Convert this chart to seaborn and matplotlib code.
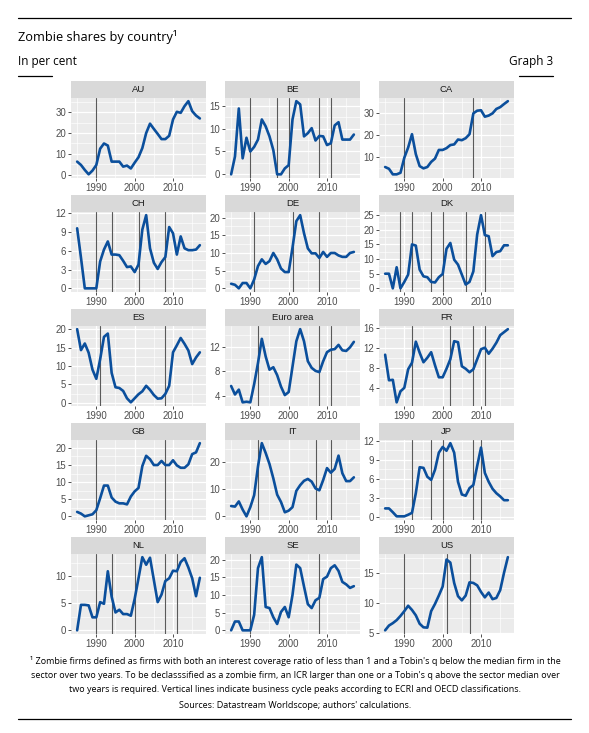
import matplotlib
matplotlib.use("Agg")
import numpy as np
import pandas as pd
import matplotlib.pyplot as plt
import seaborn as sns
from matplotlib.lines import Line2D
from matplotlib.ticker import FixedLocator, MultipleLocator

# ---------------- data ----------------
YEARS = list(range(1985, 2018))
COUNTRIES = ["AU", "BE", "CA", "CH", "DE", "DK", "ES", "Euro area",
             "FR", "GB", "IT", "JP", "NL", "SE", "US"]

AU = [6.3, 4.7, 2.3, 0.2, 2.0, 4.7, 12.5, 15.0, 14.0, 6.3, 6.3, 6.3, 3.9, 4.4, 3.0, 5.8, 8.4,
      12.8, 20.0, 24.5, 22.0, 19.6, 17.1, 17.1, 18.7, 26.5, 30.2, 29.7, 32.9, 35.3, 30.5, 28.4, 27.0]
BE = [0.0, 3.9, 14.4, 3.5, 8.0, 5.0, 6.0, 7.6, 12.0, 10.5, 8.3, 5.3, 0.0, 0.0, 1.3, 2.0, 12.0,
      16.0, 15.3, 8.3, 9.0, 10.1, 7.4, 8.4, 8.3, 6.4, 6.8, 10.7, 11.4, 7.6, 7.6, 7.6, 8.7]
CA = [5.6, 4.8, 2.3, 2.3, 3.0, 9.8, 14.4, 20.4, 11.4, 6.0, 5.0, 5.6, 7.9, 9.4, 13.3, 13.3, 14.1,
      15.5, 15.8, 18.0, 17.7, 18.6, 20.4, 29.8, 31.0, 31.2, 28.3, 28.8, 29.8, 31.8, 32.6, 34.0, 35.3]
CH = [9.6, 4.9, 0.0, 0.0, 0.0, 0.0, 4.3, 6.2, 7.5, 5.4, 5.4, 5.3, 4.4, 3.4, 3.5, 2.6, 3.8,
      9.4, 11.7, 6.4, 4.1, 3.1, 4.2, 5.0, 9.8, 8.8, 5.4, 8.3, 6.4, 6.1, 6.1, 6.2, 6.9]
DE = [1.3, 1.0, 0.0, 1.5, 1.5, 0.0, 2.5, 6.3, 8.2, 6.9, 7.7, 10.0, 8.2, 5.6, 4.6, 4.6, 11.5,
      19.0, 20.7, 15.6, 11.3, 9.9, 9.9, 8.6, 10.3, 8.9, 10.0, 10.0, 9.3, 8.9, 8.9, 10.0, 10.3]
DK = [5.0, 5.0, 0.0, 7.2, 0.0, 2.2, 4.7, 15.0, 14.6, 6.4, 4.1, 3.8, 2.2, 2.0, 3.8, 4.9, 13.5,
      15.5, 9.8, 8.1, 4.7, 1.3, 2.2, 5.8, 18.4, 25.0, 18.2, 17.8, 11.0, 12.4, 12.7, 14.7, 14.7]
ES = [20.0, 14.3, 16.1, 13.6, 9.0, 6.5, 11.8, 17.9, 18.8, 8.1, 4.2, 4.0, 3.2, 1.2, 0.1, 1.2, 2.3,
      3.1, 4.6, 3.5, 2.1, 1.1, 1.2, 2.4, 4.6, 13.7, 15.6, 17.6, 16.0, 14.2, 10.5, 12.3, 13.7]
EA = [5.6, 4.2, 5.0, 2.9, 3.0, 2.9, 5.9, 9.4, 13.4, 10.5, 8.3, 8.7, 7.4, 5.5, 4.1, 4.6, 8.8,
      13.0, 15.0, 13.0, 9.7, 8.6, 8.1, 7.9, 9.7, 11.2, 11.6, 11.7, 12.4, 11.5, 11.4, 12.0, 12.9]
FR = [10.6, 5.5, 5.6, 1.1, 3.3, 4.0, 7.7, 9.0, 13.2, 11.0, 9.1, 10.0, 11.1, 8.5, 6.1, 6.1, 7.8,
      9.7, 13.3, 13.1, 8.3, 7.8, 7.1, 7.7, 9.7, 11.7, 12.0, 10.8, 11.8, 13.0, 14.5, 15.1, 15.7]
GB = [1.3, 0.8, 0.0, 0.3, 0.6, 1.8, 5.3, 9.0, 9.0, 5.5, 4.3, 3.8, 3.8, 3.5, 5.8, 7.3, 8.3,
      14.7, 17.7, 16.7, 15.0, 15.0, 16.2, 15.0, 15.0, 16.4, 14.9, 14.2, 14.2, 15.2, 18.2, 18.7, 21.4]
IT = [3.8, 3.6, 5.5, 2.5, 0.0, 3.4, 7.8, 18.4, 27.0, 23.4, 19.3, 14.0, 8.0, 5.3, 1.5, 2.1, 3.4,
      9.4, 11.5, 13.1, 13.8, 12.8, 10.3, 9.6, 13.4, 17.8, 16.1, 17.5, 22.4, 15.9, 13.0, 13.0, 14.4]
JP = [1.3, 1.3, 0.7, 0.05, 0.05, 0.05, 0.3, 0.6, 3.7, 7.8, 7.7, 6.3, 5.8, 7.4, 10.1, 11.0, 10.4,
      11.6, 10.1, 5.5, 3.5, 3.3, 4.5, 5.0, 8.0, 10.9, 6.9, 5.5, 4.4, 3.7, 3.2, 2.6, 2.6]
NL = [0.0, 4.7, 4.7, 4.6, 2.4, 2.4, 5.2, 4.9, 10.9, 6.2, 3.3, 3.8, 3.0, 3.0, 2.7, 5.8, 9.6,
      13.5, 12.1, 13.4, 9.3, 5.2, 6.6, 9.1, 9.6, 11.0, 10.9, 12.6, 13.3, 11.6, 9.6, 6.3, 9.7]
SE = [0.0, 2.5, 2.5, 0.0, 0.0, 0.0, 4.4, 17.6, 20.7, 6.6, 6.3, 3.7, 1.8, 5.2, 6.6, 3.7, 10.0,
      18.6, 17.6, 12.4, 7.4, 6.3, 8.5, 9.2, 14.5, 15.2, 17.6, 18.4, 16.8, 13.7, 13.0, 12.0, 12.5]
US = [5.5, 6.3, 6.7, 7.2, 7.9, 8.7, 9.6, 8.9, 8.0, 6.6, 6.0, 5.95, 8.7, 9.9, 11.3, 12.8, 17.3,
      16.8, 13.4, 11.2, 10.5, 11.3, 13.5, 13.4, 13.0, 11.9, 11.0, 11.8, 10.7, 10.9, 12.2, 15.1, 17.7]

# business-cycle peaks (vertical lines)
AU_PEAKS = [1990]
BE_PEAKS = [1990, 1997, 2000, 2008, 2011]
CA_PEAKS = [1990, 2008]
CH_PEAKS = [1990, 1994, 2001, 2008]
DE_PEAKS = [1991, 2001, 2008]
DK_PEAKS = [1989, 1992, 1997, 2000, 2006, 2011]
ES_PEAKS = [1991, 2008]
EA_PEAKS = [1992, 2008, 2011]
FR_PEAKS = [1992, 2002, 2008, 2011]
GB_PEAKS = [1990, 2008]
IT_PEAKS = [1992, 2007, 2011]
JP_PEAKS = [1992, 1997, 2000, 2008, 2010]
NL_PEAKS = [1990, 1994, 2000, 2008, 2011]
SE_PEAKS = [1990, 2008]
US_PEAKS = [1990, 2001, 2007]

# y tick labels
AU_YT = [0, 10, 20, 30]
BE_YT = [0, 5, 10, 15]
CA_YT = [10, 20, 30]
CH_YT = [0, 3, 6, 9, 12]
DE_YT = [0, 5, 10, 15, 20]
DK_YT = [0, 5, 10, 15, 20, 25]
ES_YT = [0, 5, 10, 15, 20]
EA_YT = [4, 8, 12]
FR_YT = [4, 8, 12, 16]
GB_YT = [0, 5, 10, 15, 20]
IT_YT = [0, 10, 20]
JP_YT = [0, 3, 6, 9, 12]
NL_YT = [0, 5, 10]
SE_YT = [0, 5, 10, 15, 20]
US_YT = [5, 10, 15]
X_TICKS = [1990, 2000, 2010]

SERIES = [AU, BE, CA, CH, DE, DK, ES, EA, FR, GB, IT, JP, NL, SE, US]
PEAKS = [AU_PEAKS, BE_PEAKS, CA_PEAKS, CH_PEAKS, DE_PEAKS, DK_PEAKS, ES_PEAKS, EA_PEAKS,
         FR_PEAKS, GB_PEAKS, IT_PEAKS, JP_PEAKS, NL_PEAKS, SE_PEAKS, US_PEAKS]
YTICKS = [AU_YT, BE_YT, CA_YT, CH_YT, DE_YT, DK_YT, ES_YT, EA_YT, FR_YT, GB_YT, IT_YT,
          JP_YT, NL_YT, SE_YT, US_YT]

df = pd.DataFrame([(c, y, v) for c, s in zip(COUNTRIES, SERIES) for y, v in zip(YEARS, s)],
                  columns=["country", "year", "share"])

# ---------------- style ----------------
sns.set_theme(style="white")
plt.rcParams["font.family"] = ["Liberation Sans", "DejaVu Sans"]

W, H = 589, 733
fig = plt.figure(figsize=(W / 100, H / 100), dpi=100)
fig.patch.set_facecolor("white")

LINE_COL = "#0B4F9C"
PANEL_BG = "#EBEBEB"
STRIP_BG = "#D9D9D9"
HDR_FONT = ["Open Sans", "DejaVu Sans"]


def fax(x, top, w, h):
    return fig.add_axes([x / W, 1 - (top + h) / H, w / W, h / H])


COL_X = [71, 225, 379]
PW = 135
STRIP_TOP0 = 81
ROW_STEP = 114
STRIP_H = 16.5
PH = 80.5

x0, x1 = YEARS[0], YEARS[-1]
xr = x1 - x0

for i, c in enumerate(COUNTRIES):
    r, k = divmod(i, 3)
    st = STRIP_TOP0 + ROW_STEP * r
    # strip
    sax = fax(COL_X[k], st, PW, STRIP_H)
    sax.set_facecolor(STRIP_BG)
    sax.set_xticks([]); sax.set_yticks([])
    for sp in sax.spines.values():
        sp.set_visible(False)
    sax.text(0.5, 0.5, c, ha="center", va="center", fontsize=6.8, color="#1A1A1A",
             transform=sax.transAxes)
    # panel
    ax = fax(COL_X[k], st + STRIP_H, PW, PH)
    ax.set_facecolor(PANEL_BG)
    for sp in ax.spines.values():
        sp.set_visible(False)
    sub = df[df.country == c]
    for p in PEAKS[i]:
        ax.axvline(p, color="#5A5A5A", lw=0.8, zorder=2)
    sns.lineplot(data=sub, x="year", y="share", ax=ax, color=LINE_COL, lw=1.9,
                 zorder=3, legend=False)
    vals = np.array(SERIES[i])
    lo, hi = vals.min(), vals.max()
    ax.set_xlim(x0 - 0.05 * xr, x1 + 0.05 * xr)
    ax.set_ylim(lo - 0.05 * (hi - lo), hi + 0.05 * (hi - lo))
    yt = YTICKS[i]
    ax.yaxis.set_major_locator(FixedLocator(yt))
    ax.yaxis.set_minor_locator(MultipleLocator((yt[1] - yt[0]) / 2))
    ax.xaxis.set_major_locator(FixedLocator(X_TICKS))
    ax.xaxis.set_minor_locator(MultipleLocator(5))
    ax.grid(which="major", color="white", lw=0.9, zorder=0)
    ax.grid(which="minor", color="white", lw=0.45, zorder=0)
    ax.set_axisbelow(True)
    ax.tick_params(which="major", bottom=True, left=True, length=2.5, width=0.6,
                   color="#333333", labelsize=6.9, labelcolor="#4D4D4D", pad=1)
    ax.tick_params(which="minor", bottom=False, left=False, length=0)
    ax.set_yticklabels([str(t) for t in yt])
    ax.set_xticklabels([str(t) for t in X_TICKS])
    ax.set_xlabel("")
    ax.set_ylabel("")

# ---------------- header / footer ----------------
def hline(y, xa, xb, lw=0.9):
    fig.add_artist(Line2D([xa / W, xb / W], [1 - y / H, 1 - y / H], color="black", lw=lw))

hline(18, 18, 571)
fig.text(18 / W, 1 - 37 / H, "Zombie shares by country\u00b9", fontsize=9.2, family=HDR_FONT,
         va="center", ha="left", color="black")
fig.text(18 / W, 1 - 62 / H, "In per cent", fontsize=8.5, family=HDR_FONT,
         va="center", ha="left", color="black")
fig.text(553 / W, 1 - 62 / H, "Graph 3", fontsize=8.5, family=HDR_FONT,
         va="center", ha="right", color="black")
hline(76, 18, 52)
hline(76, 519, 553)

FOOT = ["\u00b9 Zombie firms defined as firms with both an interest coverage ratio of less than 1 and a Tobin's q below the median firm in the",
        "sector over two years. To be declasssified as a zombie firm, an ICR larger than one or a Tobin's q above the sector median over",
        "two years is required. Vertical lines indicate business cycle peaks according to ECRI and OECD classifications."]
for j, line in enumerate(FOOT):
    fig.text(295 / W, 1 - (661 + 14 * j) / H, line, fontsize=6.45, family=HDR_FONT,
             ha="center", va="center", color="black")
fig.text(295 / W, 1 - 706 / H, "Sources: Datastream Worldscope; authors' calculations.",
         fontsize=6.45, family=HDR_FONT, ha="center", va="center", color="black")
hline(719, 18, 571)

fig.savefig("out.png", dpi=100, facecolor="white")
